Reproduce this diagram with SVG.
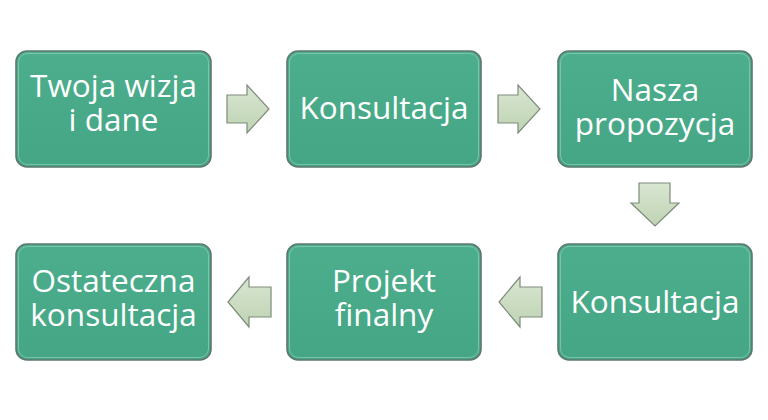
<svg xmlns="http://www.w3.org/2000/svg" width="768" height="420" viewBox="0 0 768 420">
<defs>
<linearGradient id="ag" x1="0" y1="0" x2="0" y2="1">
<stop offset="0" stop-color="#d9e6d2"/>
<stop offset="1" stop-color="#bfd3b3"/>
</linearGradient>
<linearGradient id="bg" x1="0" y1="0" x2="0" y2="1">
<stop offset="0" stop-color="#4cae8c"/>
<stop offset="1" stop-color="#44a684"/>
</linearGradient>
</defs>
<style>
.box{fill:url(#bg);stroke:#5f786d;stroke-width:1.6}
.hl{fill:none;stroke:#8fd0b6;stroke-width:1;opacity:0.7}
.t{fill:#ffffff;font-family:"Open Sans","Liberation Sans",sans-serif;font-size:31.5px;text-anchor:middle}
.arr{fill:url(#ag);stroke:#7d8b7a;stroke-width:1.2;stroke-linejoin:miter}
</style>
<rect width="768" height="420" fill="#ffffff"/>
<g id="n1">
<rect class="box" x="16" y="51" width="195" height="116" rx="11"/>
<rect class="hl" x="18.5" y="53.5" width="190" height="111" rx="9"/>
<text class="t"><tspan x="113.5" y="97">Twoja wizja</tspan><tspan x="113.5" y="131">i dane</tspan></text>
</g>
<g id="n2">
<rect class="box" x="287" y="51" width="194" height="116" rx="11"/>
<rect class="hl" x="289.5" y="53.5" width="189" height="111" rx="9"/>
<text class="t" x="384" y="119">Konsultacja</text>
</g>
<g id="n3">
<rect class="box" x="558" y="51" width="194" height="116" rx="11"/>
<rect class="hl" x="560.5" y="53.5" width="189" height="111" rx="9"/>
<text class="t"><tspan x="655" y="101">Nasza</tspan><tspan x="655" y="135">propozycja</tspan></text>
</g>
<g id="n4">
<rect class="box" x="558" y="244" width="194" height="116" rx="11"/>
<rect class="hl" x="560.5" y="246.5" width="189" height="111" rx="9"/>
<text class="t" x="655" y="313">Konsultacja</text>
</g>
<g id="n5">
<rect class="box" x="287" y="244" width="194" height="116" rx="11"/>
<rect class="hl" x="289.5" y="246.5" width="189" height="111" rx="9"/>
<text class="t"><tspan x="384" y="292">Projekt</tspan><tspan x="384" y="326">finalny</tspan></text>
</g>
<g id="n6">
<rect class="box" x="16" y="244" width="195" height="116" rx="11"/>
<rect class="hl" x="18.5" y="246.5" width="190" height="111" rx="9"/>
<text class="t"><tspan x="113.5" y="292">Ostateczna</tspan><tspan x="113.5" y="326">konsultacja</tspan></text>
</g>
<g id="connectors">
<path class="arr" d="M227,95 H247 V85 L269,109 L247,133 V123 H227 Z"/>
<path class="arr" d="M498,95 H518 V85 L540,109 L518,133 V123 H498 Z"/>
<path class="arr" d="M639,183 H670 V203 H679 L655,226 L631,203 H639 Z"/>
<path class="arr" d="M542,287 H520 V277 L499,302 L520,327 V317 H542 Z"/>
<path class="arr" d="M271,287 H249 V277 L228,302 L249,327 V317 H271 Z"/>
</g>
</svg>
